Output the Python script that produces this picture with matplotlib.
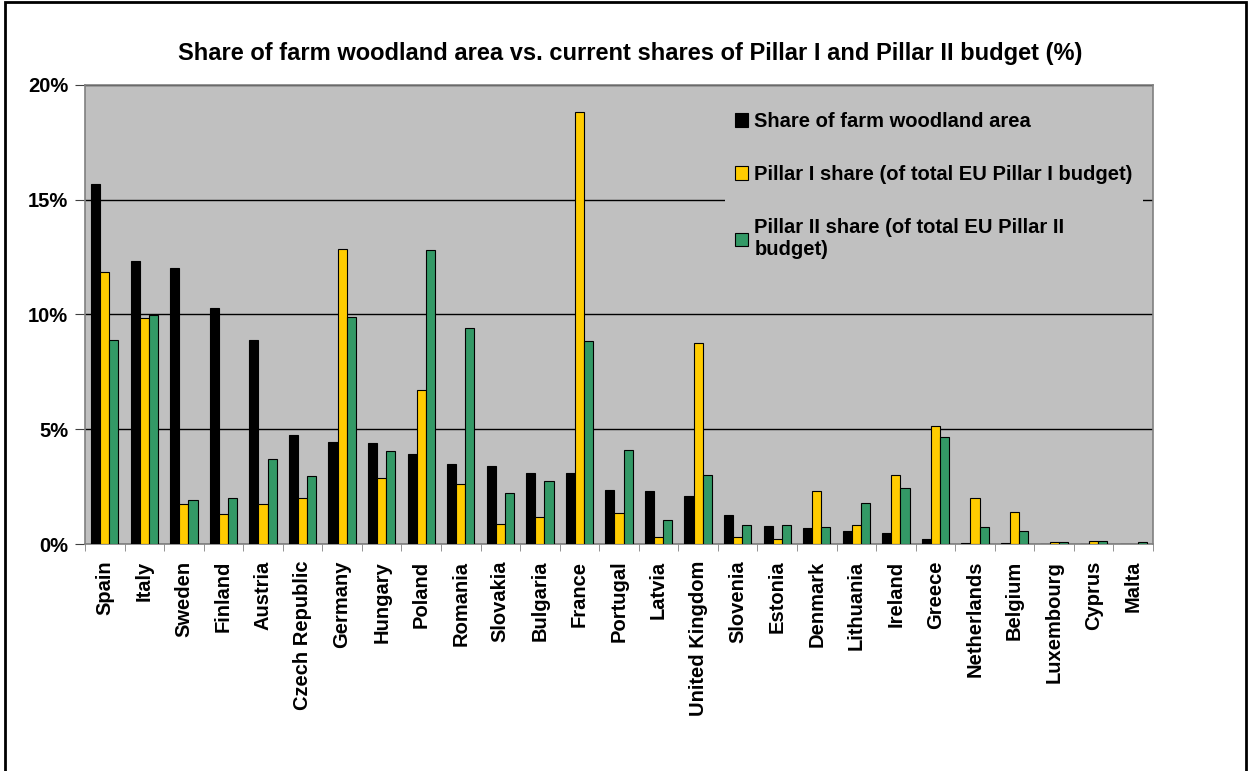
import matplotlib.pyplot as plt
import numpy as np
from matplotlib.patches import Rectangle
from matplotlib.ticker import FuncFormatter

countries = ['Spain', 'Italy', 'Sweden', 'Finland', 'Austria', 'Czech Republic',
             'Germany', 'Hungary', 'Poland', 'Romania', 'Slovakia', 'Bulgaria',
             'France', 'Portugal', 'Latvia', 'United Kingdom', 'Slovenia', 'Estonia',
             'Denmark', 'Lithuania', 'Ireland', 'Greece', 'Netherlands', 'Belgium',
             'Luxembourg', 'Cyprus', 'Malta']
woodland = [15.70, 12.33, 12.04, 10.27, 8.87, 4.75, 4.46, 4.42, 3.91, 3.49, 3.41, 3.08,
            3.08, 2.37, 2.31, 2.08, 1.25, 0.77, 0.71, 0.57, 0.46, 0.22, 0.05, 0.04,
            0.02, 0.02, 0.01]
pillar1 = [11.84, 9.86, 1.73, 1.29, 1.73, 1.99, 12.87, 2.89, 6.70, 2.61, 0.86, 1.19,
           18.81, 1.37, 0.32, 8.76, 0.32, 0.22, 2.32, 0.84, 3.02, 5.14, 2.02, 1.38,
           0.08, 0.12, 0.02]
pillar2 = [8.89, 9.98, 1.92, 2.00, 3.69, 2.95, 9.88, 4.07, 12.80, 9.40, 2.22, 2.76,
           8.85, 4.11, 1.05, 3.02, 0.81, 0.81, 0.75, 1.77, 2.45, 4.65, 0.73, 0.55,
           0.10, 0.15, 0.08]
labels = ['Share of farm woodland area',
          'Pillar I share (of total EU Pillar I budget)',
          'Pillar II share (of total EU Pillar II\nbudget)']
yticks = [0, 5, 10, 15, 20]

plt.rcParams['font.family'] = ['Liberation Sans', 'DejaVu Sans']
plt.rcParams['font.weight'] = 'bold'
fs = 14.5

fig = plt.figure(figsize=(12.5, 7.71), dpi=100)
ax = fig.add_axes([0.068, 0.2944, 0.8544, 0.5954])
ax.set_facecolor('#C0C0C0')

x = np.arange(len(countries))
w = 0.23
ax.bar(x - w, woodland, w, color='black', edgecolor='black', linewidth=0.8, label=labels[0], zorder=3)
ax.bar(x, pillar1, w, color='#FFCC00', edgecolor='black', linewidth=0.8, label=labels[1], zorder=3)
ax.bar(x + w, pillar2, w, color='#339966', edgecolor='black', linewidth=0.8, label=labels[2], zorder=3)

ax.set_xlim(-0.5, len(countries) - 0.5)
ax.set_ylim(0, 20)
ax.set_yticks(yticks)
ax.yaxis.set_major_formatter(FuncFormatter(lambda v, p: '%d%%' % v))
ax.grid(axis='y', color='black', linewidth=1, zorder=1)
ax.set_axisbelow(True)

ax.set_xticks(x)
ax.set_xticklabels(countries, rotation=90, fontsize=fs, fontweight='bold')
ax.set_xticks(np.arange(len(countries) + 1) - 0.5, minor=True)
ax.tick_params(axis='x', which='major', length=0, pad=12)
ax.tick_params(axis='x', which='minor', length=5, color='#808080', direction='out')
ax.tick_params(axis='y', length=7, color='#404040', direction='out', labelsize=fs, pad=5)
for t in ax.get_yticklabels():
    t.set_fontweight('bold')

for s in ax.spines.values():
    s.set_color('#808080')
    s.set_linewidth(1.2)

leg = ax.legend(loc='upper left', bbox_to_anchor=(0.59, 0.985), fontsize=fs,
                frameon=True, facecolor='#C0C0C0', edgecolor='none', framealpha=1,
                fancybox=False, handlelength=0.65, handleheight=0.65,
                handletextpad=0.3, labelspacing=1.7, borderpad=0.5)

fig.text(0.504, 0.931,
         'Share of farm woodland area vs. current shares of Pillar I and Pillar II budget (%)',
         ha='center', va='center', fontsize=17, fontweight='bold')

fig.patches.append(Rectangle((0.004, -0.01), 0.993, 1.007, transform=fig.transFigure,
                             fill=False, edgecolor='black', linewidth=2))

fig.savefig('out.png', dpi=100, facecolor='white')
